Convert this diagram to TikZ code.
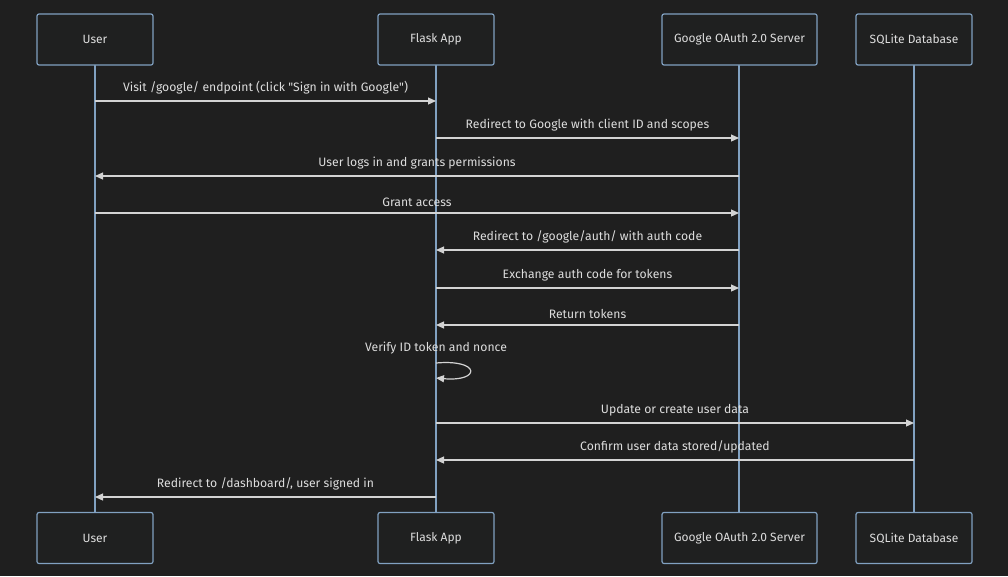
\documentclass[tikz,border=0pt]{standalone}
\usepackage{fontspec}
\setmainfont{Fira Sans}
\newfontfamily\labelfont{Fira Sans}
\usetikzlibrary{arrows.meta}
\definecolor{bg}{HTML}{1F1F1F}
\definecolor{boxfill}{HTML}{1F2020}
\definecolor{boxline}{HTML}{81A1C1}
\definecolor{msgline}{HTML}{D3D3D3}
\definecolor{txt}{HTML}{DDDDDD}
\tikzset{
  actor/.style={draw=boxline, fill=boxfill, line width=1.2pt, rounded corners=2pt,
    minimum width=116pt, minimum height=51pt, inner sep=0pt, text=txt, font=\labelfont\fontsize{12}{14}\selectfont},
  wideactor/.style={actor, minimum width=155pt},
  life/.style={draw=boxline, line width=1.2pt},
  msg/.style={draw=msgline, line width=1.2pt, -{Triangle[length=8pt,width=7pt]}},
  lbl/.style={text=txt, font=\labelfont\fontsize{12.2}{14}\selectfont, inner sep=0pt}
}
\begin{document}
\begin{tikzpicture}[x=1pt,y=-1pt]
\fill[bg] (0,0) rectangle (1008,576);
\useasboundingbox (0,0) rectangle (1008,576);
% coordinates of lifelines
\coordinate (uT) at (95,65);  \coordinate (uB) at (95,513);
\coordinate (fT) at (436,65); \coordinate (fB) at (436,513);
\coordinate (gT) at (739,65); \coordinate (gB) at (739,513);
\coordinate (sT) at (914,65); \coordinate (sB) at (914,513);
\draw[life] (uT) -- (uB);
\draw[life] (fT) -- (fB);
\draw[life] (gT) -- (gB);
\draw[life] (sT) -- (sB);
% actors top
\node[actor] (u1) at (95,39.5) {User};
\node[actor] (f1) at (436,39.5) {Flask App};
\node[wideactor] (g1) at (739.5,39.5) {Google OAuth 2.0 Server};
\node[actor] (s1) at (914,39.5) {SQLite Database};
% actors bottom
\node[actor] (u2) at (95,538) {User};
\node[actor] (f2) at (436,538) {Flask App};
\node[wideactor] (g2) at (739.5,538) {Google OAuth 2.0 Server};
\node[actor] (s2) at (914,538) {SQLite Database};
% message anchor coordinates
\foreach \n/\y in {1/101,2/138,3/176,4/213,5/250,6/288,7/325,9/423,10/460,11/497}{
  \coordinate (u\n) at (95,\y);
  \coordinate (f\n) at (436,\y);
  \coordinate (g\n) at (739,\y);
  \coordinate (s\n) at (914,\y);
}
\draw[msg] (u1) -- (f1) node[lbl, midway, above=6pt] {Visit /google/ endpoint (click "Sign in with Google")};
\draw[msg] (f2) -- (g2) node[lbl, midway, above=6pt] {Redirect to Google with client ID and scopes};
\draw[msg] (g3) -- (u3) node[lbl, midway, above=6pt] {User logs in and grants permissions};
\draw[msg] (u4) -- (g4) node[lbl, midway, above=6pt] {Grant access};
\draw[msg] (g5) -- (f5) node[lbl, midway, above=6pt] {Redirect to /google/auth/ with auth code};
\draw[msg] (f6) -- (g6) node[lbl, midway, above=6pt] {Exchange auth code for tokens};
\draw[msg] (g7) -- (f7) node[lbl, midway, above=6pt] {Return tokens};
% self message
\coordinate (l1) at (436,363);
\coordinate (l2) at (436,378);
\node[lbl] (vlbl) at (436,348) {Verify ID token and nonce};
\draw[msg] (l1) .. controls (481,359) and (481,382) .. (l2);
\draw[msg] (f9) -- (s9) node[lbl, midway, above=6pt] {Update or create user data};
\draw[msg] (s10) -- (f10) node[lbl, midway, above=6pt] {Confirm user data stored/updated};
\draw[msg] (f11) -- (u11) node[lbl, midway, above=6pt] {Redirect to /dashboard/, user signed in};
\end{tikzpicture}
\end{document}
